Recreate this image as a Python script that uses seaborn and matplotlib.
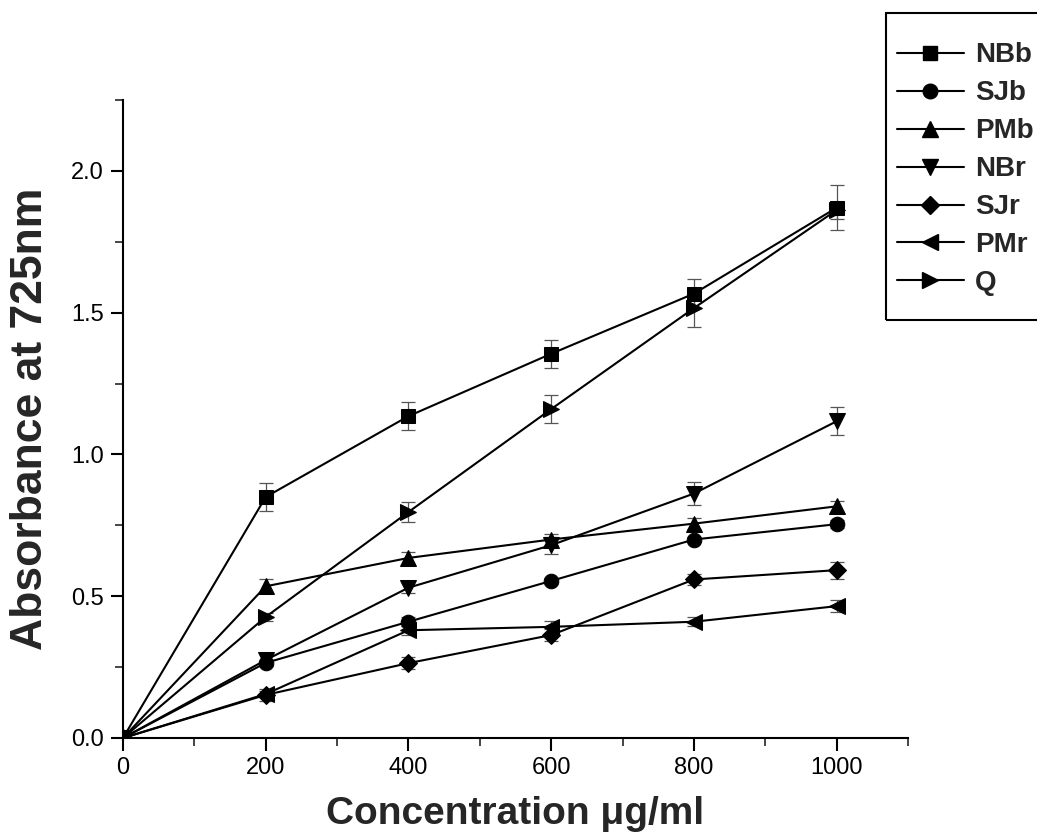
import numpy as np
import pandas as pd
import matplotlib
matplotlib.use("Agg")
import matplotlib.pyplot as plt
import seaborn as sns
from matplotlib.ticker import MultipleLocator
from matplotlib.lines import Line2D
from matplotlib.patches import Rectangle

# ---- data ----
conc = [0, 200, 400, 600, 800, 1000]
series_names = ["NBb", "SJb", "PMb", "NBr", "SJr", "PMr", "Q"]
NBb = [0.0, 0.85, 1.135, 1.355, 1.567, 1.87]
SJb = [0.0, 0.265, 0.41, 0.554, 0.70, 0.754]
PMb = [0.0, 0.535, 0.635, 0.70, 0.756, 0.817]
NBr = [0.0, 0.275, 0.53, 0.68, 0.862, 1.117]
SJr = [0.0, 0.152, 0.264, 0.363, 0.559, 0.592]
PMr = [0.0, 0.155, 0.38, 0.392, 0.41, 0.465]
Q = [0.0, 0.427, 0.797, 1.16, 1.516, 1.862]
NBb_err = [0.0, 0.05, 0.05, 0.05, 0.05, 0.08]
SJb_err = [0.0, 0.01, 0.015, 0.01, 0.01, 0.015]
PMb_err = [0.0, 0.025, 0.02, 0.02, 0.02, 0.02]
NBr_err = [0.0, 0.02, 0.02, 0.03, 0.04, 0.05]
SJr_err = [0.0, 0.02, 0.02, 0.02, 0.02, 0.03]
PMr_err = [0.0, 0.01, 0.015, 0.02, 0.015, 0.02]
Q_err = [0.0, 0.015, 0.035, 0.05, 0.065, 0.03]
x_ticks = [0, 200, 400, 600, 800, 1000]
y_ticks = [0.0, 0.5, 1.0, 1.5, 2.0]

values = {"NBb": NBb, "SJb": SJb, "PMb": PMb, "NBr": NBr, "SJr": SJr, "PMr": PMr, "Q": Q}
errors = {"NBb": NBb_err, "SJb": SJb_err, "PMb": PMb_err, "NBr": NBr_err,
          "SJr": SJr_err, "PMr": PMr_err, "Q": Q_err}

rows = []
for name in series_names:
    for c, v, e in zip(conc, values[name], errors[name]):
        rows.append({"conc": c, "abs": v, "err": e, "series": name})
df = pd.DataFrame(rows)

sns.set_theme(style="white")
plt.rcParams["font.family"] = ["Liberation Sans", "DejaVu Sans"]

fig = plt.figure(figsize=(10.37, 8.40), dpi=100)
ax = fig.add_axes([123 / 1037, 1 - 738 / 840, (908 - 123) / 1037, (738 - 100) / 840])

markers = {"NBb": "s", "SJb": "o", "PMb": "^", "NBr": "v", "SJr": "D", "PMr": "<", "Q": ">"}
msizes = {"NBb": 9.5, "SJb": 10.5, "PMb": 11.5, "NBr": 11.5, "SJr": 9.5, "PMr": 11.5, "Q": 11.5}
palette = {n: "black" for n in series_names}

# error bars first (grey, thin)
for name in series_names:
    sub = df[df.series == name]
    ax.errorbar(sub["conc"], sub["abs"], yerr=sub["err"], fmt="none",
                ecolor="#555555", elinewidth=0.9, capsize=5, capthick=0.9, zorder=2)

sns.lineplot(data=df, x="conc", y="abs", hue="series", style="series",
             hue_order=series_names, style_order=series_names,
             palette=palette, markers=markers, dashes=False, linewidth=1.5,
             markersize=10, markeredgecolor="black", ax=ax, legend=False,
             zorder=3, sort=False)
for line, name in zip(ax.get_lines()[-len(series_names):], series_names):
    line.set_markersize(msizes[name])

ax.set_xlim(0, 1100)
ax.set_ylim(0, 2.25)
ax.set_xticks(x_ticks)
ax.set_xticklabels([str(t) for t in x_ticks])
ax.set_yticks(y_ticks)
ax.set_yticklabels([f"{t:.1f}" for t in y_ticks])
ax.xaxis.set_minor_locator(MultipleLocator(100))
ax.yaxis.set_minor_locator(MultipleLocator(0.25))
ax.tick_params(axis="both", which="major", direction="out", length=9, width=1.5,
               labelsize=17, colors="black", bottom=True, left=True, pad=5)
ax.tick_params(axis="both", which="minor", direction="out", length=6, width=1.2,
               bottom=True, left=True)
for side in ["top", "right"]:
    ax.spines[side].set_visible(False)
for side in ["left", "bottom"]:
    ax.spines[side].set_color("black")
    ax.spines[side].set_linewidth(1.5)

ax.set_xlabel("Concentration μg/ml", fontsize=28, fontweight="bold", labelpad=12)
ax.set_ylabel("Absorbance at 725nm", fontsize=32, fontweight="bold", labelpad=14)

# legend frame (runs off the right edge, as in the reference)
W, H = 1037, 840
fig.patches.append(Rectangle((886 / W, 1 - 320 / H), (1060 - 886) / W, (320 - 13) / H,
                             transform=fig.transFigure, fill=False,
                             edgecolor="black", linewidth=1.5, clip_on=False))

handles = [Line2D([0], [0], color="black", lw=1.5, marker=markers[n],
                  markersize=msizes[n], markerfacecolor="black", markeredgecolor="black")
           for n in series_names]
leg = fig.legend(handles, series_names, loc="upper left",
                 bbox_to_anchor=(897 / W, 1 - 42.5 / H),
                 frameon=False, prop={"size": 20, "weight": "bold"},
                 handlelength=2.4, handletextpad=0.4, labelspacing=0.43,
                 borderpad=0, borderaxespad=0)

fig.savefig("out.png", dpi=100)
